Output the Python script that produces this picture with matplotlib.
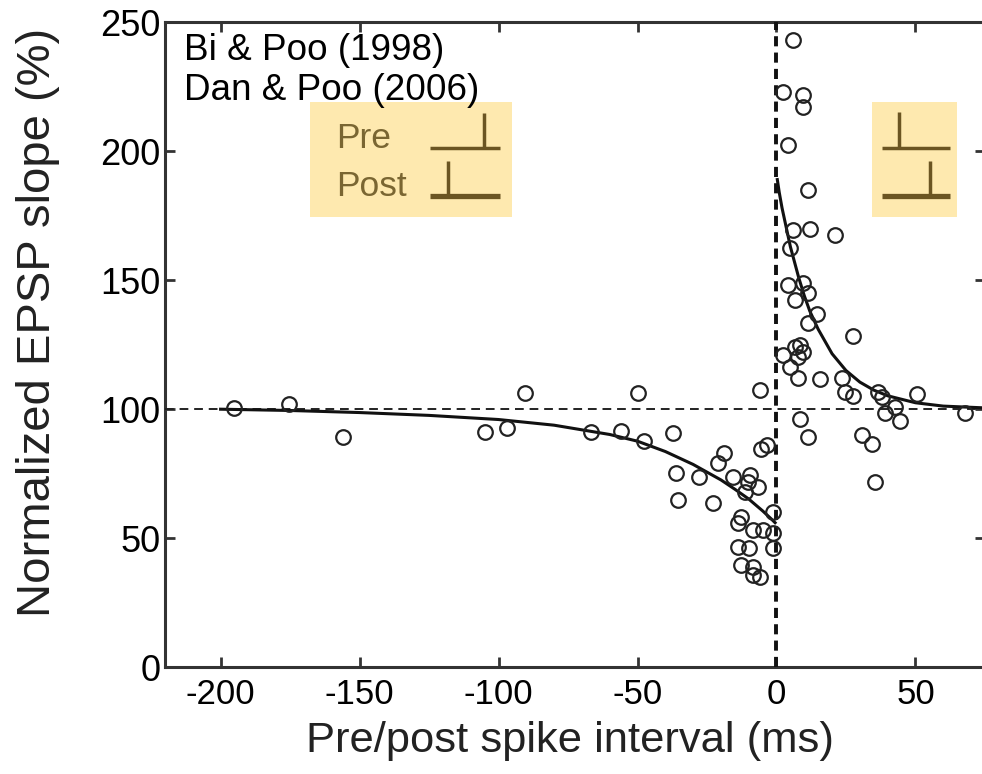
import matplotlib.pyplot as plt
from matplotlib.patches import Rectangle

plt.rcParams['font.family'] = ['Liberation Sans', 'DejaVu Sans']

# data points (ms, % of baseline)
ltd_x = [-195.3, -175.5, -155.8, -104.7, -96.8, -90.3, -66.9, -55.8, -50.0, -47.8,
         -37.4, -36.0, -35.6, -27.8, -23.0, -20.9, -19.0, -15.5, -13.7, -12.9,
         -13.7, -12.9, -11.2, -10.4, -10.0, -9.4, -8.6, -8.3, -8.3, -6.8,
         -5.8, -5.8, -5.4, -3.4, -4.7, -1.4, -1.4, -1.1]
ltd_y = [100.4, 101.9, 89.1, 91.1, 92.6, 106.2, 91.1, 91.5, 106.2, 87.6,
         90.7, 75.2, 64.7, 73.6, 63.6, 79.0, 82.9, 73.6, 55.8, 58.1,
         46.5, 39.5, 67.8, 71.7, 46.1, 74.4, 38.8, 53.1, 35.7, 69.8,
         34.9, 107.4, 84.5, 86.3, 53.1, 51.9, 46.1, 60.0]

ltp_x = [6.1, 2.5, 9.4, 9.4, 4.3, 11.5, 6.1, 11.9, 5.0, 21.2,
         4.0, 9.7, 6.8, 11.2, 14.7, 11.5, 27.5, 2.5, 6.8, 8.6,
         9.7, 7.9, 5.0, 7.9, 15.8, 23.7, 24.8, 27.7, 36.7, 38.1,
         50.5, 42.8, 39.2, 44.6, 68.0, 8.6, 11.2, 30.9, 34.5, 35.6]
ltp_y = [243.0, 222.9, 221.7, 217.0, 202.3, 184.9, 169.4, 169.8, 162.4, 167.4,
         148.0, 149.0, 142.2, 145.0, 136.8, 133.3, 128.3, 120.9, 124.0, 124.8,
         122.1, 120.2, 116.3, 112.0, 111.6, 112.0, 106.6, 105.0, 106.6, 104.7,
         105.8, 100.8, 98.4, 95.3, 98.4, 96.1, 89.1, 89.9, 86.4, 71.7]

# fitted curves
fit_neg_x = [-200, -175, -150, -125, -100, -80, -60, -50, -40, -30, -20, -15, -10, -5, -2, -0.5]
fit_neg_y = [100, 99.5, 98.7, 97.6, 96.0, 93.8, 90.2, 87.6, 83.6, 78.6, 72.6, 69.0, 65.2, 60.6, 57.6, 56.0]
fit_pos_x = [0.3, 1, 2, 3, 4, 5, 6, 8, 10, 12, 15, 20, 25, 30, 35, 40, 50, 60, 75]
fit_pos_y = [189, 184, 178, 173, 168, 163, 159, 151, 144, 138, 131, 121.5, 115, 110.5, 107.4, 105.2, 102.5, 101.2, 100.5]

xticks = [-200, -150, -100, -50, 0, 50]
yticks = [0, 50, 100, 150, 200, 250]

fig = plt.figure(figsize=(9.82, 7.74), dpi=100)
ax = fig.add_axes([0.168, 0.138, 0.835, 0.8333])

box_col = '#FEE9AF'
sym_col = '#6B5522'
txt_col = '#7A6632'

# inset boxes with the spike-order symbols
ax.add_patch(Rectangle((-168, 174.4), 73, 44.6, color=box_col, zorder=1, lw=0))
ax.add_patch(Rectangle((34.2, 174.4), 30.9, 44.6, color=box_col, zorder=1, lw=0))
ax.text(-158.6, 205, 'Pre', fontsize=25.5, color=txt_col, va='center', ha='left', zorder=2)
ax.text(-158.6, 186.5, 'Post', fontsize=25.5, color=txt_col, va='center', ha='left', zorder=2)
ax.plot([-124.5, -99.3], [201.2, 201.2], color=sym_col, lw=2.5, zorder=2, solid_capstyle='butt')
ax.plot([-105.4, -105.4], [214.7, 201.2], color=sym_col, lw=2.5, zorder=2, solid_capstyle='butt')
ax.plot([-124.5, -99.3], [182.6, 182.6], color=sym_col, lw=3.8, zorder=2, solid_capstyle='butt')
ax.plot([-118.2, -118.2], [196.1, 182.6], color=sym_col, lw=2.5, zorder=2, solid_capstyle='butt')
ax.plot([38.1, 62.6], [201.2, 201.2], color=sym_col, lw=2.5, zorder=2, solid_capstyle='butt')
ax.plot([43.9, 43.9], [215.1, 201.2], color=sym_col, lw=2.5, zorder=2, solid_capstyle='butt')
ax.plot([38.1, 62.6], [182.6, 182.6], color=sym_col, lw=3.8, zorder=2, solid_capstyle='butt')
ax.plot([55.4, 55.4], [196.1, 182.6], color=sym_col, lw=2.5, zorder=2, solid_capstyle='butt')

# reference lines
ax.axhline(100, color='#222222', lw=1.4, ls=(0, (4.5, 3)), zorder=3)
ax.axvline(0, color='#111111', lw=2.8, ls=(0, (2.6, 1.6)), zorder=3)

# fits
ax.plot(fit_neg_x, fit_neg_y, color='#111111', lw=2.2, zorder=4)
ax.plot(fit_pos_x, fit_pos_y, color='#111111', lw=2.2, zorder=4)

# data
ax.plot(ltd_x, ltd_y, 'o', ms=10.5, mfc='none', mec='#222222', mew=1.6, zorder=5)
ax.plot(ltp_x, ltp_y, 'o', ms=10.5, mfc='none', mec='#222222', mew=1.6, zorder=5)

ax.text(-213.3, 239, 'Bi & Poo (1998)', fontsize=26.6, va='center', ha='left', zorder=6)
ax.text(-213.3, 223.5, 'Dan & Poo (2006)', fontsize=26.6, va='center', ha='left', zorder=6)

ax.set_xlim(-220, 75)
ax.set_ylim(0, 250)
ax.set_xticks(xticks)
ax.set_yticks(yticks)
ax.set_xticklabels([str(t) for t in xticks])
ax.set_yticklabels([str(t) for t in yticks])
ax.tick_params(axis='both', direction='in', length=7, width=2, color='#333333',
               labelsize=25, top=True, right=True)
ax.tick_params(axis='x', pad=8)
ax.tick_params(axis='y', pad=3, labelsize=26)
for side in ['left', 'top', 'bottom', 'right']:
    ax.spines[side].set_linewidth(2.2)
    ax.spines[side].set_color('#333333')

ax.set_xlabel('Pre/post spike interval (ms)', fontsize=31.3, labelpad=7, color='#222222')
ax.xaxis.label.set_x(0.494)
ax.set_ylabel('Normalized EPSP slope (%)', fontsize=34, labelpad=29, color='#222222')
ax.yaxis.label.set_y(0.535)

fig.savefig('out.png', dpi=100)
